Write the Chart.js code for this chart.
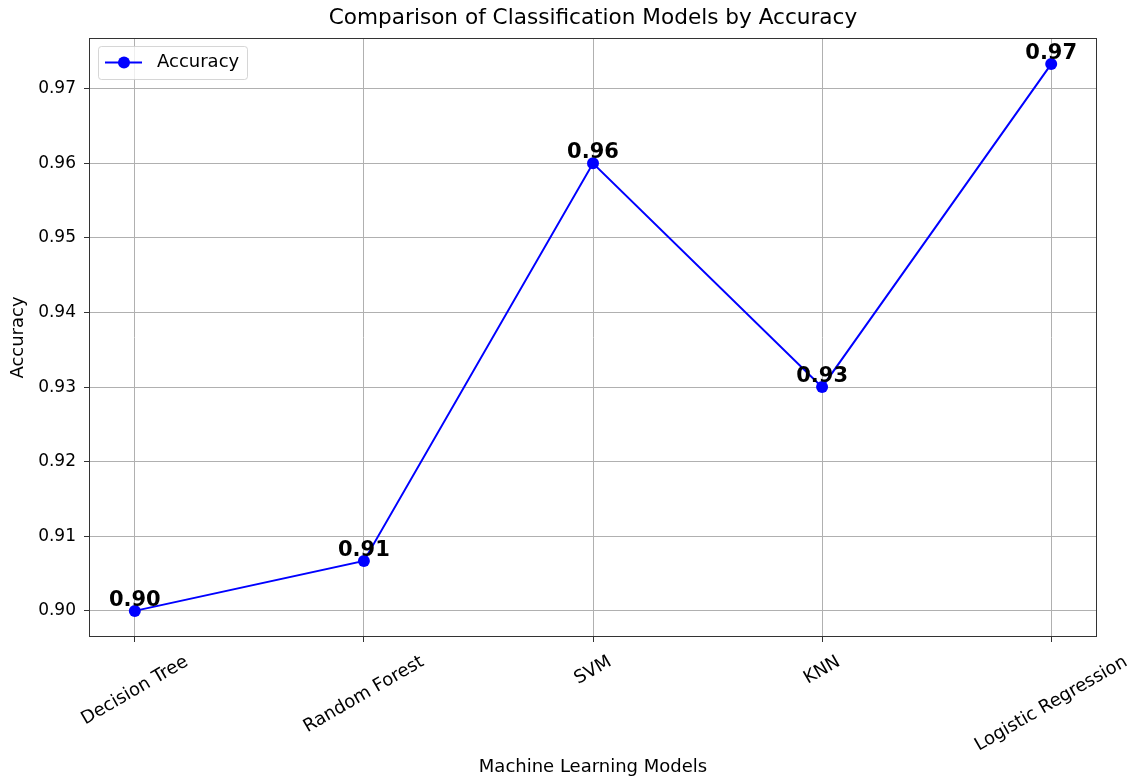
<!DOCTYPE html>
<html>
<head>
<meta charset="utf-8">
<script src="https://cdn.jsdelivr.net/npm/chart.js@4.4.1/dist/chart.umd.min.js"></script>
<style>
  html, body { margin: 0; padding: 0; background: #fff; }
  #wrap { width: 1129px; height: 779px; }
</style>
</head>
<body>
<div id="wrap"><canvas id="accuracyChart" width="1129" height="779"></canvas></div>
<script>
const models = ['Decision Tree', 'Random Forest', 'SVM', 'KNN', 'Logistic Regression'];
const accuracy = [0.9000, 0.9067, 0.9600, 0.9300, 0.9733];
const yTicks = [0.90, 0.91, 0.92, 0.93, 0.94, 0.95, 0.96, 0.97];

const FONT = '"DejaVu Sans", sans-serif';
const lineColor = '#0000ff';

const mplPlugin = {
    id: 'mplLook',
    afterDraw(chart) {
        const ctx = chart.ctx;
        const area = chart.chartArea;
        const xs = chart.scales.x;
        const midX = (area.left + area.right) / 2;

        ctx.save();

        // frame
        ctx.strokeStyle = '#333';
        ctx.lineWidth = 1;
        ctx.strokeRect(area.left + 0.5, area.top + 0.5, area.right - area.left - 1, area.bottom - area.top - 1);

        // title
        ctx.fillStyle = '#000';
        ctx.textAlign = 'center';
        ctx.textBaseline = 'middle';
        ctx.font = '21.6px ' + FONT;
        ctx.fillText('Comparison of Classification Models by Accuracy', midX, 18);

        // axis titles
        ctx.font = '18px ' + FONT;
        ctx.fillText('Machine Learning Models', midX, 767);
        ctx.save();
        ctx.translate(18, (area.top + area.bottom) / 2);
        ctx.rotate(-Math.PI / 2);
        ctx.fillText('Accuracy', 0, 0);
        ctx.restore();

        // rotated x tick labels, centred on the tick like matplotlib
        const ang = Math.PI / 6;
        ctx.font = '18px ' + FONT;
        models.forEach((m, i) => {
            const px = xs.getPixelForValue(i);
            const w = ctx.measureText(m).width;
            const h = 20;
            const bh = w * Math.sin(ang) + h * Math.cos(ang);
            ctx.save();
            ctx.translate(px, area.bottom + 15 + bh / 2);
            ctx.rotate(-ang);
            ctx.fillText(m, 0, 0);
            ctx.restore();
        });

        // value labels
        const meta = chart.getDatasetMeta(0);
        ctx.font = 'bold 21px ' + FONT;
        ctx.textBaseline = 'alphabetic';
        meta.data.forEach((pt, i) => {
            ctx.fillText(accuracy[i].toFixed(2), pt.x, pt.y - 5);
        });

        // legend
        const lx = area.left + 9, ly = area.top + 8, lw = 149, lh = 33;
        ctx.fillStyle = 'rgba(255,255,255,0.8)';
        ctx.strokeStyle = 'rgba(204,204,204,0.8)';
        ctx.lineWidth = 1;
        ctx.beginPath();
        ctx.roundRect(lx + 0.5, ly + 0.5, lw, lh, 3);
        ctx.fill();
        ctx.stroke();
        const cy = ly + lh / 2;
        ctx.strokeStyle = lineColor;
        ctx.lineWidth = 2;
        ctx.beginPath();
        ctx.moveTo(lx + 7, cy);
        ctx.lineTo(lx + 44, cy);
        ctx.stroke();
        ctx.fillStyle = lineColor;
        ctx.beginPath();
        ctx.arc(lx + 26, cy, 6, 0, Math.PI * 2);
        ctx.fill();
        ctx.fillStyle = '#000';
        ctx.font = '18px ' + FONT;
        ctx.textAlign = 'left';
        ctx.textBaseline = 'middle';
        ctx.fillText(chart.data.datasets[0].label, lx + 59, cy);

        ctx.restore();
    }
};

new Chart(document.getElementById('accuracyChart'), {
    type: 'line',
    data: {
        datasets: [{
            label: 'Accuracy',
            data: models.map((m, i) => ({ x: i, y: accuracy[i] })),
            borderColor: lineColor,
            backgroundColor: lineColor,
            borderWidth: 2,
            pointRadius: 6,
            pointBorderWidth: 0,
            pointBackgroundColor: lineColor,
            tension: 0,
        }]
    },
    options: {
        responsive: false,
        animation: false,
        devicePixelRatio: 1,
        layout: { padding: { top: 38, right: 32, left: 0, bottom: 0 } },
        plugins: {
            legend: { display: false },
            title: { display: false },
            tooltip: { enabled: false }
        },
        scales: {
            x: {
                type: 'linear',
                min: -0.2,
                max: 4.2,
                afterBuildTicks: (s) => { s.ticks = models.map((m, i) => ({ value: i })); },
                afterFit: (s) => { s.height = 142; },
                ticks: { display: false },
                grid: { color: '#b0b0b0', lineWidth: 1, tickLength: 5, tickColor: '#333', drawTicks: true },
                border: { display: false }
            },
            y: {
                min: 0.8965,
                max: 0.9768,
                afterBuildTicks: (s) => { s.ticks = yTicks.map(v => ({ value: v })); },
                afterFit: (s) => { s.width = 89; },
                ticks: {
                    padding: 8,
                    color: '#000',
                    font: { family: FONT, size: 17 },
                    callback: (v) => v.toFixed(2)
                },
                grid: { color: '#b0b0b0', lineWidth: 1, tickLength: 5, tickColor: '#333' },
                border: { display: false }
            }
        }
    },
    plugins: [mplPlugin]
});
</script>
</body>
</html>
